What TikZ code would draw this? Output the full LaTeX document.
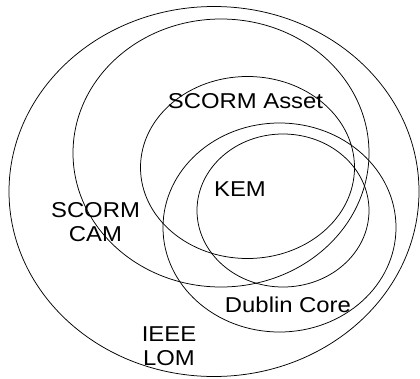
\documentclass[tikz,border=0pt]{standalone}
\usepackage{fontspec}
\setmainfont{Liberation Sans}
\usetikzlibrary{shapes.geometric}
\begin{document}
\begin{tikzpicture}[x=1pt,y=-1pt,
  setshape/.style={draw, ellipse, line width=0.75pt, inner sep=0pt, outer sep=0pt},
  setlabel/.style={font=\fontsize{21.5}{24}\selectfont, align=center, inner sep=0pt, xscale=1.11}]
  \useasboundingbox (0,0) rectangle (420,378);
  % the nested metadata sets
  \node[setshape, minimum width=410pt, minimum height=370pt] (lom)   at (214,191.5) {};
  \node[setshape, minimum width=296pt, minimum height=268pt] (cam)   at (221,153) {};
  \node[setshape, minimum width=214pt, minimum height=182pt] (asset) at (247.5,167.5) {};
  \node[setshape, minimum width=233pt, minimum height=209pt] (dc)    at (279.5,227.5) {};
  \node[setshape, minimum width=172pt, minimum height=153pt] (kem)   at (283,210.5) {};
  % set names
  \node[setlabel] (tasset) at (245.5,101.5) {SCORM Asset};
  \node[setlabel] (tkem)   at (240,189) {KEM};
  \node[setlabel] (tcam)   at (95.5,222.5) {SCORM\\CAM};
  \node[setlabel] (tdc)    at (288,305) {Dublin Core};
  \node[setlabel] (tlom)   at (169,346.5) {IEEE\\LOM};
\end{tikzpicture}
\end{document}
